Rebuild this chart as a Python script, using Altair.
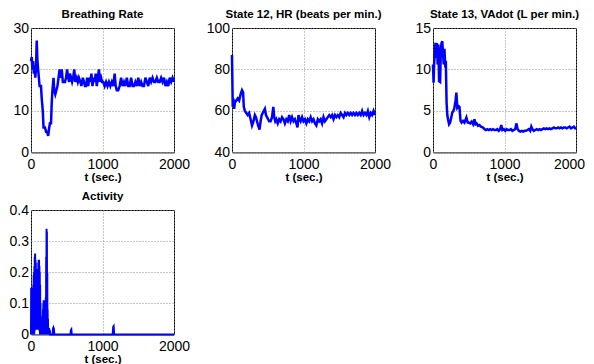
import altair as alt
import pandas as pd

# ---- data (time in sec., value) ----
BREATHING = [(0, 22), (10, 23), (20, 20), (30, 22), (40, 19), (50, 21), (60, 18), (70, 20), (80, 27), (90, 22),
             (100, 20), (110, 18), (120, 16), (140, 16), (150, 13), (165, 10), (175, 6), (195, 6), (210, 5), (225, 5),
             (240, 4), (255, 6), (265, 7), (280, 7), (290, 12), (300, 15), (315, 18), (325, 15), (340, 14), (355, 15),
             (370, 16), (385, 18), (400, 20), (415, 18), (430, 20), (445, 17), (460, 17), (475, 17), (490, 18), (505, 20),
             (520, 18), (535, 17), (545, 19), (560, 18), (575, 17), (590, 18), (605, 20), (620, 17), (640, 18), (655, 17),
             (670, 18), (690, 17), (705, 16), (725, 18), (740, 17), (755, 16), (770, 16), (785, 18), (800, 16), (815, 18),
             (830, 17), (845, 19), (860, 16), (875, 18), (890, 17), (905, 19), (920, 16), (935, 18), (950, 20), (965, 17),
             (980, 18), (995, 17), (1010, 17), (1030, 16), (1050, 17), (1070, 16), (1090, 17), (1110, 16), (1130, 17),
             (1150, 16), (1170, 19), (1185, 16), (1200, 15), (1220, 15), (1240, 16), (1260, 18), (1280, 16), (1300, 17),
             (1320, 16), (1340, 18), (1360, 16), (1380, 16), (1400, 18), (1420, 16), (1440, 16), (1460, 17), (1480, 16),
             (1500, 18), (1520, 16), (1540, 17), (1560, 16), (1580, 16), (1600, 18), (1620, 17), (1640, 16), (1660, 18),
             (1680, 17), (1700, 18), (1720, 17), (1740, 17), (1760, 18), (1780, 17), (1800, 17), (1820, 18), (1840, 17),
             (1860, 18), (1880, 16), (1900, 17), (1920, 16), (1940, 18), (1960, 17), (1980, 18), (2000, 17)]

HEART_RATE = [(0, 87), (5, 75), (10, 62), (20, 66), (30, 61), (40, 64), (60, 65), (80, 66), (100, 65), (120, 68),
              (140, 70), (155, 69), (165, 62), (180, 60), (200, 59), (220, 58), (240, 59), (260, 56), (280, 53), (300, 55),
              (320, 58), (335, 57), (350, 55), (365, 53), (385, 51), (400, 55), (415, 58), (430, 59), (445, 60), (460, 61),
              (475, 58), (490, 57), (505, 56), (520, 55), (540, 55), (560, 57), (578, 62), (590, 57), (605, 55), (620, 56),
              (640, 54), (660, 56), (680, 55), (700, 57), (720, 56), (740, 54), (760, 56), (780, 55), (800, 58), (820, 55),
              (840, 57), (860, 55), (880, 56), (900, 54), (916, 52), (930, 58), (945, 56), (960, 55), (980, 57), (1000, 55),
              (1020, 56), (1040, 54), (1060, 56), (1080, 55), (1100, 57), (1120, 55), (1140, 56), (1160, 54), (1180, 53),
              (1200, 56), (1220, 55), (1240, 56), (1260, 54), (1280, 57), (1300, 55), (1320, 56), (1340, 57), (1360, 58),
              (1380, 57), (1400, 58), (1420, 56), (1440, 58), (1460, 57), (1480, 58), (1500, 57), (1520, 59), (1540, 58),
              (1560, 57), (1580, 59), (1600, 58), (1620, 59), (1640, 58), (1660, 59), (1680, 58), (1700, 59), (1720, 58),
              (1740, 59), (1760, 58), (1780, 59), (1800, 58), (1820, 60), (1840, 58), (1860, 59), (1880, 58), (1900, 60),
              (1920, 57), (1940, 59), (1960, 58), (1980, 60), (2000, 58)]

VADOT = [(0, 10.6), (8, 8.4), (15, 10.5), (25, 12.2), (35, 13.2), (45, 11.4), (55, 13.2), (65, 10.6), (75, 13.0),
         (85, 8.6), (100, 8.5), (110, 12.5), (120, 13.2), (130, 13.4), (140, 12.0), (150, 10.6), (160, 12.5), (170, 10.6),
         (180, 10.7), (190, 6.0), (200, 4.5), (210, 4.0), (225, 3.4), (240, 3.6), (255, 4.2), (270, 4.8), (285, 5.0),
         (300, 5.4), (315, 6.2), (327, 7.2), (340, 5.4), (355, 5.6), (370, 5.5), (385, 3.8), (400, 3.6), (420, 3.8),
         (440, 3.6), (467, 4.2), (485, 3.6), (500, 3.6), (520, 3.5), (540, 3.7), (560, 3.4), (580, 4.0), (595, 3.4),
         (610, 3.5), (630, 3.2), (650, 3.3), (670, 3.1), (700, 3.0), (720, 2.8), (740, 2.7), (760, 2.8), (780, 2.7),
         (800, 2.8), (820, 2.7), (840, 2.8), (860, 2.7), (880, 2.7), (900, 2.8), (920, 2.6), (940, 2.8), (955, 3.3),
         (970, 2.7), (990, 2.8), (1010, 2.6), (1030, 2.8), (1050, 2.7), (1070, 2.7), (1090, 2.8), (1110, 2.6),
         (1130, 2.7), (1150, 2.8), (1167, 3.5), (1180, 2.9), (1200, 2.6), (1220, 2.5), (1240, 2.6), (1260, 2.5),
         (1280, 2.6), (1300, 2.6), (1320, 2.7), (1340, 2.8), (1360, 2.6), (1375, 3.1), (1390, 2.8), (1410, 2.6),
         (1430, 2.7), (1450, 2.8), (1470, 2.7), (1490, 2.8), (1510, 2.7), (1530, 2.8), (1550, 2.9), (1570, 2.8),
         (1590, 2.9), (1610, 2.8), (1630, 2.9), (1650, 2.8), (1670, 2.9), (1690, 3.0), (1710, 2.9), (1730, 2.9),
         (1750, 3.0), (1770, 2.9), (1790, 3.0), (1810, 2.9), (1830, 3.0), (1850, 3.0), (1870, 2.9), (1890, 3.0),
         (1910, 3.1), (1930, 2.9), (1950, 3.0), (1970, 3.1), (1990, 2.9), (2000, 2.8)]

ACTIVITY = [(0, 0), (2.5, 0.15), (5, 0), (7.5, 0.14), (10, 0), (12.5, 0.15), (15, 0.01), (17.5, 0.13), (20, 0),
            (22.5, 0.15), (25, 0), (27.5, 0.14), (30, 0.01), (32.5, 0.16), (35, 0), (37.5, 0.19), (40, 0.01),
            (42.5, 0.2), (45, 0), (47.5, 0.22), (50, 0.01), (52.5, 0.25), (55, 0.015), (57.5, 0.26), (60, 0.02),
            (62.5, 0.24), (65, 0.015), (67.5, 0.23), (70, 0.02), (72.5, 0.21), (75, 0.015), (77.5, 0.18), (80, 0.02),
            (82.5, 0.15), (85, 0.015), (87.5, 0.13), (90, 0.02), (92.5, 0.17), (95, 0.015), (97.5, 0.21), (100, 0.02),
            (102.5, 0.23), (105, 0.015), (107.5, 0.24), (110, 0.02), (112.5, 0.24), (115, 0.015), (117.5, 0.22),
            (120, 0.01), (122.5, 0.2), (125, 0), (127.5, 0.16), (130, 0), (132.5, 0.1), (135, 0), (137.5, 0.06),
            (140, 0), (142.5, 0.03), (145, 0), (147.5, 0.02), (150, 0), (152.5, 0.04), (155, 0), (157.5, 0.03),
            (160, 0), (162.5, 0.05), (165, 0), (167.5, 0.08), (170, 0), (172.5, 0.1), (175, 0), (177.5, 0.11),
            (180, 0), (182.5, 0.1), (185, 0), (187.5, 0.11), (190, 0), (192.5, 0.09), (195, 0), (197.5, 0.06),
            (200, 0), (202.5, 0.04), (205, 0), (207.5, 0.12), (210, 0), (212.5, 0.25), (215, 0.01), (217.5, 0.34),
            (220, 0.01), (222.5, 0.33), (225, 0), (227.5, 0.2), (230, 0), (232.5, 0.08), (235, 0), (237.5, 0.05),
            (240, 0), (242.5, 0.02), (245, 0), (252, 0.02), (258, 0), (262, 0.015), (268, 0), (302, 0),
            (308, 0.018), (314, 0.022), (320, 0.018), (326, 0), (552, 0), (558, 0.014), (564, 0.016), (570, 0),
            (1142, 0), (1150, 0.024), (1156, 0.026), (1163, 0), (2000, 0)]

X_TICKS = [0, 1000, 2000]
FONT = "Liberation Sans"
BLUE = "#0000ff"
LABEL_EXPR = "'' + datum.value"


def panel(points, title, ydom, yticks, last_offset=0, sw=2.5):
    df = pd.DataFrame(points, columns=["t", "v"])
    return alt.Chart(df).mark_line(color=BLUE, strokeWidth=sw).encode(
        x=alt.X("t:Q",
                scale=alt.Scale(domain=[0, 2000], nice=False, zero=False),
                axis=alt.Axis(values=X_TICKS, title="t (sec.)", labelExpr=LABEL_EXPR, labelFlush=False,
                              labelOverlap=False,
                              labelOffset={"condition": {"test": "datum.value == 2000", "value": last_offset},
                                           "value": 0})),
        y=alt.Y("v:Q",
                scale=alt.Scale(domain=ydom, nice=False, zero=False),
                axis=alt.Axis(values=yticks, title=None, labelExpr=LABEL_EXPR, labelOverlap=False)),
    ).properties(width=143, height=124.4, title=title)


p1 = panel(BREATHING, "Breathing Rate", [0, 30], [0, 10, 20, 30])
p2 = panel(HEART_RATE, "State 12, HR (beats per min.)", [40, 100], [40, 60, 80, 100])
p3 = panel(VADOT, "State 13, VAdot (L per min.)", [0, 15], [0, 5, 10, 15], last_offset=-7)
p4 = panel(ACTIVITY, "Activity", [0, 0.4], [0, 0.1, 0.2, 0.3, 0.4], sw=2)

chart = alt.concat(p1, p2, p3, p4, columns=3, spacing={"row": 57, "column": 58}).properties(
    bounds="flush",
    padding={"top": 0, "left": 0, "right": 0, "bottom": 0},
).configure_view(
    stroke="black", strokeWidth=1
).configure_axis(
    domain=False, ticks=False, tickSize=0,
    labelFont=FONT, labelFontSize=14, labelColor="black",
    grid=True, gridColor="#8c8c8c", gridDash=[1, 2], gridWidth=1,
    titleFont=FONT, titleFontSize=11.5, titleFontWeight="bold", titleColor="black", titlePadding=0,
).configure_axisX(
    labelPadding=5
).configure_axisY(
    labelPadding=2.5
).configure_title(
    font=FONT, fontSize=11.5, fontWeight="bold", color="black", offset=1, anchor="middle", frame="group"
)

chart.save("out.html", embed_options={"renderer": "svg", "actions": False})
